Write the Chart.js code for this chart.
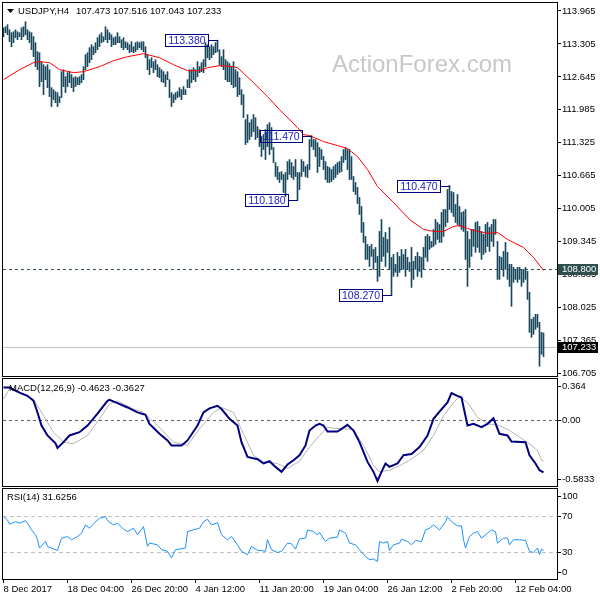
<!DOCTYPE html>
<html>
<head>
<meta charset="utf-8">
<title>USDJPY H4</title>
<script src="https://cdn.jsdelivr.net/npm/chart.js@4.4.0/dist/chart.umd.min.js"></script>
<style>
  html, body { margin: 0; padding: 0; background: #fff; }
  #wrap { position: relative; width: 600px; height: 600px; overflow: hidden; }
  #wrap canvas { position: absolute; left: 0; }
</style>
</head>
<body>
<div id="wrap">
  <canvas id="priceChart" width="600" height="378" style="top:0px"></canvas>
  <canvas id="macdChart" width="600" height="111" style="top:377px"></canvas>
  <canvas id="rsiChart" width="600" height="113" style="top:487px"></canvas>
</div>
<script>
// H4 bars, 8 Dec 2017 .. 13 Feb 2018 (high / low)
const barHighs = [
  113.63, 113.65, 113.69, 113.59, 113.53, 113.55, 113.59, 113.55, 113.53, 113.63,
  113.65, 113.75, 113.59, 113.55, 113.53, 113.45, 113.33, 113.15, 113.13, 112.95,
  112.89, 112.85, 112.89, 112.79, 112.43, 112.39, 112.35, 112.33, 112.25, 112.75,
  112.79, 112.65, 112.73, 112.75, 112.69, 112.63, 112.65, 112.63, 112.65, 112.69,
  112.85, 113.09, 113.13, 113.23, 113.29, 113.25, 113.33, 113.43, 113.49, 113.53,
  113.45, 113.65, 113.59, 113.53, 113.49, 113.43, 113.45, 113.53, 113.45, 113.39,
  113.43, 113.35, 113.33, 113.29, 113.35, 113.25, 113.33, 113.35, 113.33, 113.35,
  113.35, 113.25, 113.09, 112.99, 113.03, 112.95, 112.99, 112.89, 112.83, 112.79,
  112.75, 112.69, 112.75, 112.59, 112.33, 112.29, 112.33, 112.35, 112.43, 112.39,
  112.45, 112.39, 112.59, 112.79, 112.79, 112.83, 112.79, 112.95, 112.85, 112.93,
  112.99, 113.33, 113.29, 113.25, 113.29, 113.25, 113.33, 113.38, 113.19, 113.05,
  113.19, 112.99, 112.95, 112.91, 112.85, 112.95, 112.79, 112.75, 112.63, 112.39,
  112.29, 111.79, 111.89, 111.73, 111.79, 111.89, 111.83, 111.65, 111.59, 111.45,
  111.49, 111.59, 111.69, 111.73, 111.63, 111.23, 110.93, 110.85, 110.73, 110.75,
  110.69, 110.73, 110.95, 110.99, 110.93, 110.85, 110.99, 110.73, 110.73, 110.99,
  110.95, 110.85, 110.89, 111.39, 111.47, 111.39, 111.39, 111.33, 111.23, 111.19,
  111.05, 110.95, 110.85, 110.83, 110.79, 110.85, 110.89, 110.93, 110.95, 111.05,
  111.19, 111.23, 111.19, 111.19, 111.05, 110.65, 110.53, 110.43, 110.23, 110.05,
  109.73, 109.45, 109.29, 109.25, 109.29, 109.19, 109.23, 109.05, 109.55, 109.79,
  109.43, 109.53, 109.39, 109.63, 109.03, 109.09, 108.89, 109.13, 109.05, 109.19,
  109.09, 109.19, 109.03, 108.93, 109.23, 108.95, 109.05, 109.13, 109.05, 109.03,
  109.23, 109.45, 109.49, 109.45, 109.35, 109.59, 109.79, 109.73, 109.69, 109.93,
  109.99, 109.99, 110.39, 110.47, 110.35, 110.33, 110.09, 110.29, 110.05, 109.93,
  109.95, 109.99, 109.55, 109.39, 109.59, 109.59, 109.73, 109.75, 109.65, 109.55,
  109.49, 109.69, 109.73, 109.63, 109.69, 109.79, 109.79, 109.35, 109.05, 109.03,
  109.15, 109.33, 109.13, 108.89, 108.89, 108.83, 108.79, 108.83, 108.83, 108.79,
  108.79, 108.83, 108.75, 108.33, 107.79, 107.83, 107.89, 107.89, 107.73, 107.53,
  107.516
];
const barLows = [
  113.45, 113.53, 113.49, 113.35, 113.25, 113.33, 113.43, 113.39, 113.45, 113.39,
  113.45, 113.49, 113.39, 113.33, 113.19, 113.05, 112.85, 112.79, 112.45, 112.55,
  112.29, 112.59, 112.43, 112.25, 112.05, 112.19, 112.13, 112.05, 112.13, 112.23,
  112.45, 112.33, 112.45, 112.53, 112.43, 112.35, 112.45, 112.49, 112.49, 112.53,
  112.59, 112.79, 112.85, 112.93, 112.99, 113.09, 113.13, 113.19, 113.25, 113.33,
  113.35, 113.39, 113.33, 113.39, 113.25, 113.29, 113.29, 113.33, 113.33, 113.23,
  113.19, 113.23, 113.19, 113.13, 113.15, 113.13, 113.15, 113.19, 113.23, 113.19,
  113.15, 113.03, 112.79, 112.69, 112.83, 112.73, 112.79, 112.65, 112.63, 112.55,
  112.53, 112.45, 112.59, 112.23, 112.05, 112.13, 112.19, 112.23, 112.25, 112.19,
  112.29, 112.29, 112.43, 112.43, 112.53, 112.59, 112.55, 112.65, 112.73, 112.75,
  112.73, 112.85, 113.03, 112.99, 113.03, 113.09, 113.13, 113.15, 112.89, 112.85,
  112.79, 112.59, 112.55, 112.55, 112.49, 112.43, 112.45, 112.25, 112.29, 112.09,
  111.83, 111.29, 111.33, 111.39, 111.45, 111.55, 111.39, 111.43, 111.25, 111.05,
  111.19, 110.99, 111.25, 111.09, 111.19, 110.93, 110.65, 110.59, 110.53, 110.59,
  110.33, 110.25, 110.59, 110.69, 110.63, 110.59, 110.65, 110.18, 110.39, 110.65,
  110.75, 110.65, 110.63, 110.79, 111.25, 111.19, 111.05, 110.73, 110.85, 110.99,
  110.79, 110.59, 110.53, 110.53, 110.55, 110.59, 110.63, 110.69, 110.73, 110.75,
  110.93, 110.99, 110.79, 110.59, 110.59, 110.35, 110.29, 110.11, 109.89, 109.53,
  109.33, 108.99, 108.99, 108.85, 109.05, 108.79, 108.93, 108.55, 108.65, 108.95,
  109.05, 108.85, 109.13, 108.79, 108.27, 108.65, 108.73, 108.65, 108.73, 108.79,
  108.79, 108.65, 108.79, 108.75, 108.43, 108.59, 108.79, 108.65, 108.75, 108.63,
  108.79, 109.03, 108.95, 109.19, 109.23, 109.25, 109.29, 109.39, 109.33, 109.33,
  109.45, 109.65, 109.73, 109.99, 109.93, 109.85, 109.73, 109.69, 109.65, 109.59,
  109.55, 108.99, 108.45, 108.83, 109.05, 109.25, 109.13, 109.23, 109.13, 108.99,
  109.09, 109.13, 109.25, 109.15, 109.35, 109.25, 109.49, 108.59, 108.59, 108.79,
  108.65, 108.79, 108.59, 108.45, 108.05, 108.53, 108.59, 108.53, 108.59, 108.45,
  108.53, 108.59, 108.19, 107.53, 107.43, 107.49, 107.59, 107.63, 106.85, 107.09,
  107.043
];
const lastOpen = 107.473;
const lastClose = 107.233;

// red moving average, sampled along its path (bar index -> value)
const maBars = [0, 8, 15, 18, 23, 28, 35, 40, 48, 55, 62, 70, 72, 78, 85, 92, 98, 102, 108, 115,
  117, 125, 132, 138, 147, 150, 153, 160, 167, 172, 177, 182, 187, 195, 203, 210, 215, 220, 225, 228,
  232, 237, 243, 247, 252, 260, 265, 270];
const maValues = [112.59, 112.79, 112.93, 112.95, 112.93, 112.79, 112.73, 112.75, 112.85, 112.97,
  113.05, 113.11, 113.09, 113.03, 112.89, 112.77, 112.77, 112.83, 112.87, 112.85,
  112.83, 112.53, 112.25, 111.99, 111.63, 111.49, 111.47, 111.35, 111.27, 111.21,
  111.05, 110.79, 110.45, 110.13, 109.79, 109.59, 109.55, 109.55, 109.65, 109.67,
  109.61, 109.55, 109.51, 109.53, 109.39, 109.23, 109.03, 108.77];

// MACD(12,26,9)
const macdBars = [0, 3, 8, 12, 15, 17, 19, 22, 26, 27, 30, 33, 38, 42, 47, 52, 53, 57, 62, 67,
  71, 73, 78, 82, 84, 89, 92, 97, 100, 103, 107, 109, 113, 117, 119, 122, 127, 130, 133, 136,
  139, 142, 145, 148, 151, 153, 156, 158, 160, 162, 167, 172, 175, 178, 182, 185, 187, 189, 191, 193,
  197, 200, 204, 208, 212, 215, 218, 222, 224, 227, 229, 232, 235, 239, 242, 245, 248, 252, 254, 261,
  263, 266, 268, 270];
const macdValues = [0.288, 0.288, 0.244, 0.215, 0.171, 0.068, -0.048, -0.136, -0.206, -0.247,
  -0.195, -0.136, -0.107, -0.048, 0.057, 0.171, 0.180, 0.151, 0.112, 0.068,
  0.046, -0.033, -0.121, -0.180, -0.224, -0.224, -0.180, -0.048, 0.068, 0.104,
  0.127, 0.098, 0.011, -0.048, -0.195, -0.326, -0.346, -0.384, -0.364, -0.414,
  -0.458, -0.393, -0.355, -0.311, -0.224, -0.092, -0.048, -0.033, -0.048, -0.101,
  -0.101, -0.042, -0.092, -0.195, -0.370, -0.458, -0.539, -0.458, -0.384, -0.414,
  -0.384, -0.311, -0.300, -0.239, -0.136, 0.011, 0.075, 0.156, 0.239, 0.215,
  0.200, -0.048, -0.033, -0.063, -0.033, 0.016, -0.121, -0.136, -0.189, -0.195,
  -0.311, -0.384, -0.443, -0.4623];
const signalBars = [0, 3, 15, 20, 25, 30, 35, 42, 48, 53, 57, 65, 70, 77, 85, 92, 98, 105, 109, 115,
  120, 125, 130, 137, 142, 148, 153, 158, 162, 165, 170, 175, 180, 185, 188, 193, 198, 203, 210, 215,
  220, 225, 228, 232, 237, 242, 248, 253, 258, 263, 267, 269, 270];
const signalValues = [0.186, 0.279, 0.186, 0.039, -0.107, -0.195, -0.209, -0.136, 0.011, 0.142,
  0.171, 0.098, 0.068, -0.048, -0.195, -0.224, -0.077, 0.068, 0.112, 0.068,
  -0.121, -0.311, -0.370, -0.384, -0.428, -0.364, -0.239, -0.136, -0.063, -0.072,
  -0.077, -0.083, -0.224, -0.399, -0.458, -0.443, -0.405, -0.355, -0.268, -0.136,
  0.039, 0.156, 0.209, 0.156, 0.025, -0.033, -0.048, -0.092, -0.151, -0.209,
  -0.268, -0.355, -0.3627];

// RSI(14)
const rsiBars = [0, 2, 3, 6, 8, 11, 12, 14, 16, 17, 18, 21, 22, 25, 27, 29, 32, 34, 37, 39,
  41, 43, 46, 48, 51, 52, 55, 57, 60, 62, 65, 67, 70, 72, 73, 77, 79, 82, 84, 86,
  88, 91, 92, 95, 98, 100, 102, 104, 107, 109, 112, 114, 117, 119, 122, 124, 127, 129, 131, 132,
  134, 137, 139, 142, 144, 146, 148, 151, 152, 155, 157, 158, 161, 163, 167, 168, 171, 173, 176, 178,
  181, 183, 185, 187, 188, 190, 192, 193, 195, 198, 199, 202, 204, 206, 209, 211, 213, 215, 217, 218,
  221, 222, 225, 227, 229, 230, 231, 233, 235, 237, 239, 242, 244, 246, 247, 250, 252, 253, 255, 258,
  261, 263, 265, 267, 268, 269, 270];
const rsiValues = [69.3, 65.6, 60.9, 63.7, 62, 64.8, 62, 54.6, 49.1, 43.6,
  34.4, 41.7, 36.2, 33.3, 31.8, 45.4, 47.2, 43.6, 47.2, 50.9,
  60.1, 56.4, 63.7, 67.5, 69.3, 64.8, 60.1, 62, 55.3, 52.7,
  56.4, 49.1, 58.2, 36.2, 39.9, 38, 32.5, 30.7, 23.4, 32.5,
  33.3, 34.4, 52.7, 54.6, 56.4, 63.7, 66.4, 60.1, 62.6, 49.1,
  43.6, 47.2, 38, 30.7, 27, 36.2, 31.8, 31.8, 30.7, 43.6,
  32.5, 29.5, 30.7, 39.9, 39.1, 33.3, 44.5, 45.4, 54.6, 52.7,
  49.1, 51.6, 41.7, 45.4, 46.5, 54.6, 50.9, 39.9, 38, 32.5,
  25.1, 21.5, 22.2, 19.6, 41.7, 39.9, 41.7, 31.8, 38, 39.9,
  44.3, 41.7, 38, 42.8, 41.7, 54.6, 56.4, 60.1, 56.4, 54.6,
  63.7, 68.6, 62, 59, 59, 43.6, 34.4, 47.2, 50.9, 52.7,
  45.4, 50.9, 54.6, 52.7, 39.9, 45.4, 45.4, 38, 43.6, 43.6,
  42.8, 30.7, 29.5, 34.4, 27, 33.3, 31.6256];

// axes
const priceTicks = [113.965, 113.305, 112.645, 111.985, 111.325, 110.665, 110.005, 109.345, 108.685, 108.025, 107.365, 106.705];
const xTickBars = [0, 32, 64, 96, 128, 160, 192, 224, 256];
const xTickLabels = ['8 Dec 2017', '18 Dec 04:00', '26 Dec 20:00', '4 Jan 12:00', '11 Jan 20:00',
  '19 Jan 04:00', '26 Jan 12:00', '2 Feb 20:00', '12 Feb 04:00'];
const macdAxisValues = [0.364, 0, -0.5833];
const macdAxisLabels = ['0.364', '0.00', '-0.5833'];
const rsiAxisValues = [100, 70, 30, 0];
const rsiLevels = [70, 30];

// swing labels and the horizontal level
const noteBars = [107, 154, 147, 223, 194];
const notePrices = [113.38, 111.47, 110.18, 110.47, 108.27];
const levelPrice = 108.8;

const FONT = "'Liberation Sans', Arial, sans-serif";
const X_MIN = -0.25, X_MAX = 276.75;
Chart.defaults.font.family = FONT;
Chart.defaults.font.size = 9.5;
Chart.defaults.color = '#000';

const pts = (xs, ys) => xs.map((x, k) => ({ x: x, y: ys[k] }));

// fixed axis size, no extra label padding pushed into the plot area
const fixWidth = w => s => { s.width = w; s.paddingTop = 0; s.paddingBottom = 0; };

// black frame round each panel
const panelFrame = {
  id: 'panelFrame',
  afterDraw(chart) {
    const { ctx, chartArea: a } = chart;
    ctx.save();
    ctx.strokeStyle = '#000';
    ctx.lineWidth = 1;
    ctx.strokeRect(a.left - 0.5, a.top - 0.5, a.right - a.left + 1, a.bottom - a.top + 1);
    ctx.restore();
  }
};

function hLine(ctx, a, py, color, dash) {
  const yy = Math.round(py) + 0.5;
  ctx.save();
  ctx.strokeStyle = color;
  ctx.lineWidth = 1;
  ctx.setLineDash(dash);
  ctx.beginPath();
  ctx.moveTo(a.left, yy);
  ctx.lineTo(a.right, yy);
  ctx.stroke();
  ctx.restore();
}

function axisBox(ctx, a, py, text, fill, color) {
  const yy = Math.round(py);
  ctx.save();
  ctx.fillStyle = fill;
  ctx.fillRect(a.right + 1, yy - 5, 40, 11);
  ctx.fillStyle = color;
  ctx.font = '9.5px ' + FONT;
  ctx.textBaseline = 'middle';
  ctx.textAlign = 'left';
  ctx.fillText(text, a.right + 5, yy + 0.5);
  ctx.restore();
}

function panelText(ctx, text, x, y) {
  ctx.save();
  ctx.fillStyle = '#000';
  ctx.font = '9.5px ' + FONT;
  ctx.textBaseline = 'middle';
  ctx.textAlign = 'left';
  ctx.fillText(text, x, y);
  ctx.restore();
}

const priceOverlay = {
  id: 'priceOverlay',
  beforeDatasetsDraw(chart) {
    const { ctx, chartArea: a, scales: { y } } = chart;
    ctx.save();
    ctx.fillStyle = '#c8c8c8';
    ctx.font = '24px ' + FONT;
    ctx.textBaseline = 'alphabetic';
    ctx.fillText('ActionForex.com', 332, 72);
    ctx.restore();
    hLine(ctx, a, y.getPixelForValue(lastClose), '#c0c0c0', []);
    hLine(ctx, a, y.getPixelForValue(levelPrice), '#2f4f4f', [3, 3]);
  },
  afterDatasetsDraw(chart) {
    const { ctx, scales: { x, y } } = chart;
    ctx.save();
    ctx.font = '10.5px ' + FONT;
    ctx.lineWidth = 1;
    notePrices.forEach((p, k) => {
      const bx = Math.round(x.getPixelForValue(noteBars[k]));
      const by = Math.round(y.getPixelForValue(p)) + 0.5;
      const txt = p.toFixed(3);
      const w = Math.ceil(ctx.measureText(txt).width) + 5;
      const h = 12;
      const right = bx - 10;
      ctx.strokeStyle = '#000080';
      ctx.beginPath();
      ctx.moveTo(right, by);
      ctx.lineTo(bx, by);
      ctx.stroke();
      ctx.strokeRect(right - w + 0.5, by - h / 2, w, h);
      ctx.fillStyle = '#1a1ac8';
      ctx.textAlign = 'center';
      ctx.textBaseline = 'middle';
      ctx.fillText(txt, right - w / 2 + 0.5, by + 0.5);
    });
    ctx.restore();
  },
  afterDraw(chart) {
    const { ctx, chartArea: a, scales: { y } } = chart;
    axisBox(ctx, a, y.getPixelForValue(levelPrice), levelPrice.toFixed(3), '#2f4f4f', '#fff');
    axisBox(ctx, a, y.getPixelForValue(lastClose), lastClose.toFixed(3), '#000', '#fff');
    ctx.save();
    ctx.fillStyle = '#000';
    ctx.beginPath();
    ctx.moveTo(7, 9);
    ctx.lineTo(14, 9);
    ctx.lineTo(10.5, 13);
    ctx.closePath();
    ctx.fill();
    ctx.restore();
    const n = barHighs.length - 1;
    panelText(ctx, 'USDJPY,H4', 18, 11);
    panelText(ctx, [lastOpen, barHighs[n], barLows[n], lastClose].map(v => v.toFixed(3)).join(' '), 76, 11);
  }
};

// right-hand labels of the indicator panels (edge labels pulled inside)
function sideLabels(values, labels) {
  return {
    id: 'sideLabels',
    afterDraw(chart) {
      const { ctx, chartArea: a, scales: { y } } = chart;
      ctx.save();
      ctx.strokeStyle = '#000';
      values.forEach((v, k) => {
        let py = y.getPixelForValue(v);
        py = Math.min(Math.max(py, a.top + 7), a.bottom - 7);
        const yy = Math.round(py) + 0.5;
        ctx.beginPath();
        ctx.moveTo(a.right + 1, yy);
        ctx.lineTo(a.right + 4, yy);
        ctx.stroke();
        panelText(ctx, labels[k], a.right + 5, py);
      });
      ctx.restore();
    }
  };
}

function baseOptions(padding) {
  return {
    responsive: false,
    animation: false,
    devicePixelRatio: 1,
    events: [],
    layout: { padding: padding },
    plugins: { legend: { display: false }, tooltip: { enabled: false } },
    scales: {
      x: { type: 'linear', min: X_MIN, max: X_MAX, display: false, offset: false }
    }
  };
}

// ---------------- price panel ----------------
const priceOpts = baseOptions({ left: 3, top: 3, right: 0, bottom: 2 });
priceOpts.scales.y = {
  position: 'right',
  min: 106.655,
  max: 114.125,
  afterBuildTicks: s => { s.ticks = priceTicks.map(v => ({ value: v })); },
  afterFit: fixWidth(43),
  border: { display: false },
  grid: { drawOnChartArea: false, drawTicks: true, tickLength: 4, color: '#000' },
  ticks: { padding: 1, autoSkip: false, color: '#000', callback: v => Number(v).toFixed(3) }
};
new Chart(document.getElementById('priceChart'), {
  type: 'bar',
  data: {
    datasets: [
      {
        type: 'line',
        data: pts(maBars, maValues),
        borderColor: '#ff0000',
        borderWidth: 1,
        pointRadius: 0,
        tension: 0,
        fill: false,
        order: 0
      },
      {
        type: 'bar',
        data: barHighs.map((h, i) => ({ x: i, y: [barLows[i], h] })),
        backgroundColor: '#19475b',
        borderWidth: 0,
        borderSkipped: false,
        barThickness: 1,
        grouped: false,
        order: 1
      }
    ]
  },
  options: priceOpts,
  plugins: [priceOverlay, panelFrame]
});

// ---------------- MACD panel ----------------
const macdOpts = baseOptions({ left: 3, top: 2, right: 0, bottom: 2 });
macdOpts.scales.y = {
  position: 'right', min: -0.5833, max: 0.364,
  afterFit: fixWidth(43),
  border: { display: false }, grid: { display: false }, ticks: { display: false }
};
new Chart(document.getElementById('macdChart'), {
  type: 'line',
  data: {
    datasets: [
      { data: pts(macdBars, macdValues), borderColor: '#000080', borderWidth: 2, pointRadius: 0, tension: 0, order: 0 },
      { data: pts(signalBars, signalValues), borderColor: '#b4b4b4', borderWidth: 1, pointRadius: 0, tension: 0, order: 1 }
    ]
  },
  options: macdOpts,
  plugins: [
    {
      id: 'macdZero',
      beforeDatasetsDraw(chart) {
        hLine(chart.ctx, chart.chartArea, chart.scales.y.getPixelForValue(0), '#606060', [3, 3]);
      },
      afterDraw(chart) {
        const n = macdValues.length - 1;
        panelText(chart.ctx, 'MACD(12,26,9) ' + macdValues[n].toFixed(4) + ' ' + signalValues[signalValues.length - 1].toFixed(4), 9, 11);
      }
    },
    sideLabels(macdAxisValues, macdAxisLabels),
    panelFrame
  ]
});

// ---------------- RSI panel ----------------
const rsiOpts = baseOptions({ left: 3, top: 2, right: 0, bottom: 0 });
rsiOpts.scales.x = {
  type: 'linear', min: X_MIN, max: X_MAX, offset: false,
  afterBuildTicks: s => { s.ticks = xTickBars.map(v => ({ value: v })); },
  afterFit: s => { s.height = 21; s.paddingLeft = 0; s.paddingRight = 0; },
  border: { display: false },
  grid: { drawOnChartArea: false, drawTicks: true, tickLength: 4, color: '#000' },
  ticks: {
    align: 'start', padding: 1, autoSkip: false, maxRotation: 0, color: '#000',
    callback: (v, k) => xTickLabels[k]
  }
};
rsiOpts.scales.y = {
  position: 'right', min: 0, max: 100,
  afterFit: fixWidth(43),
  border: { display: false }, grid: { display: false }, ticks: { display: false }
};
new Chart(document.getElementById('rsiChart'), {
  type: 'line',
  data: {
    datasets: [
      { data: pts(rsiBars, rsiValues), borderColor: '#1e90ff', borderWidth: 1, pointRadius: 0, tension: 0 }
    ]
  },
  options: rsiOpts,
  plugins: [
    {
      id: 'rsiLevels',
      beforeDatasetsDraw(chart) {
        rsiLevels.forEach(v => hLine(chart.ctx, chart.chartArea, chart.scales.y.getPixelForValue(v), '#c0c0c0', [4, 3]));
      },
      afterDraw(chart) {
        panelText(chart.ctx, 'RSI(14) ' + rsiValues[rsiValues.length - 1].toFixed(4), 7, 10);
      }
    },
    sideLabels(rsiAxisValues, rsiAxisValues.map(String)),
    panelFrame
  ]
});
</script>
</body>
</html>
